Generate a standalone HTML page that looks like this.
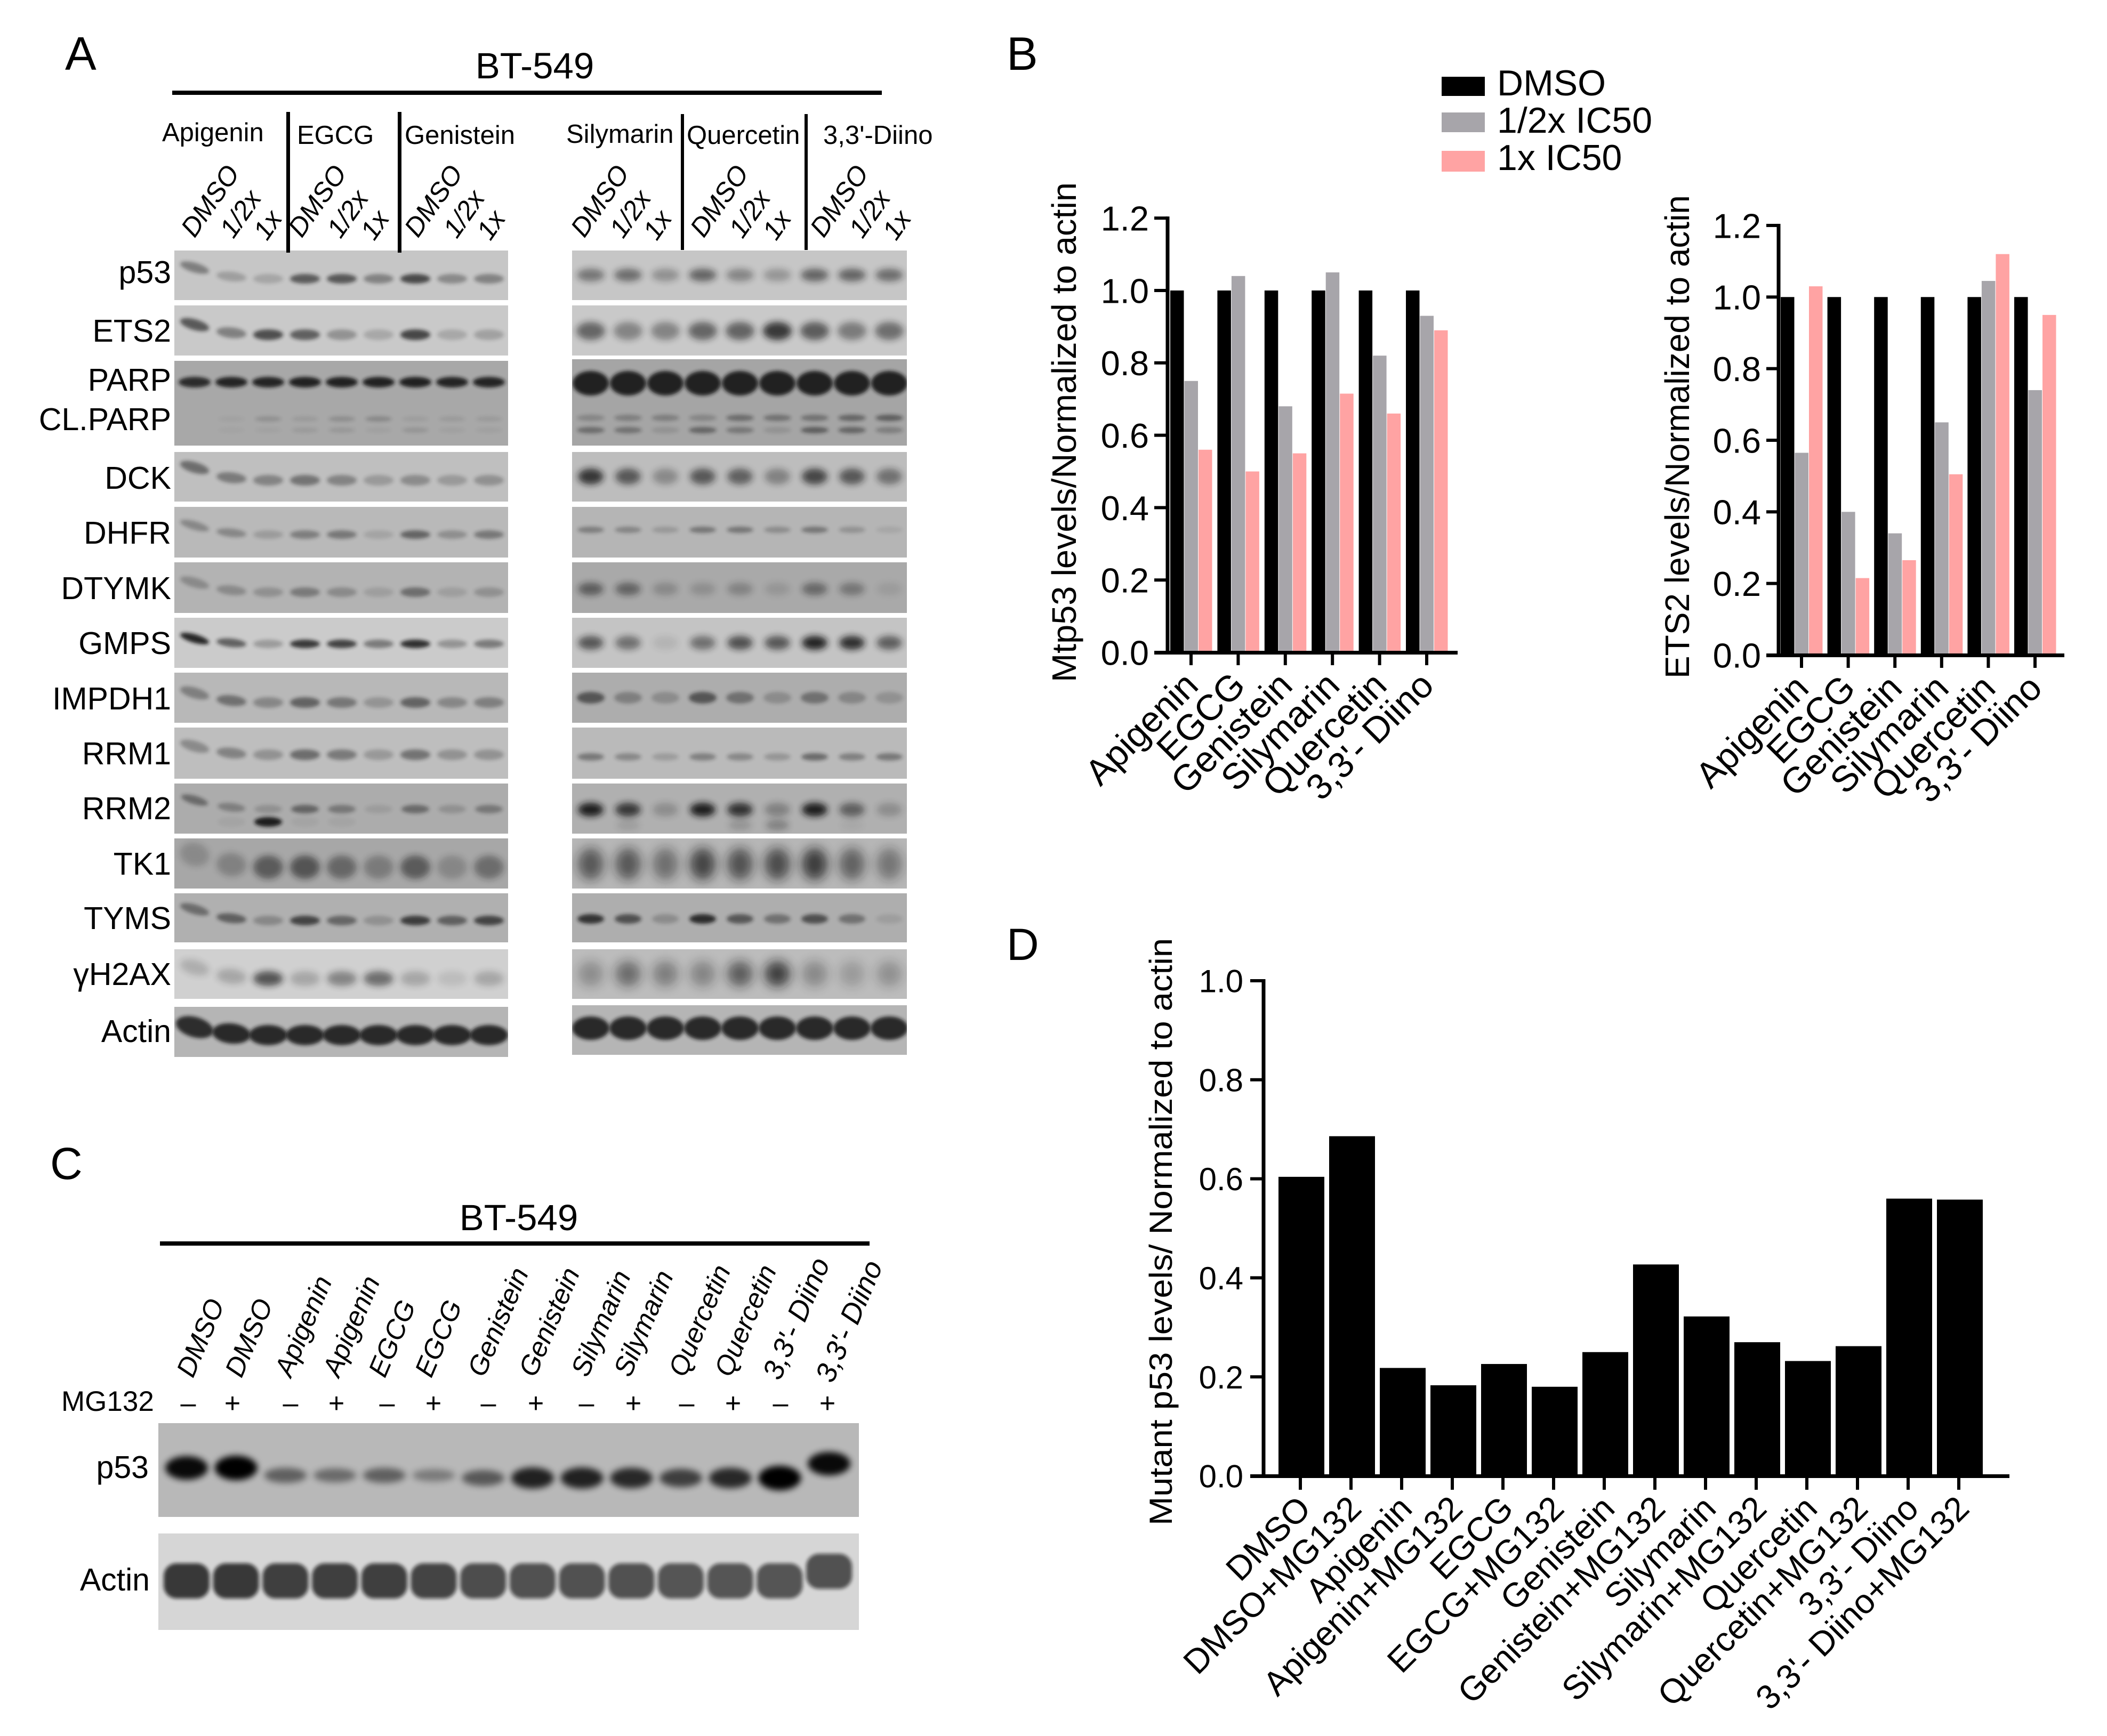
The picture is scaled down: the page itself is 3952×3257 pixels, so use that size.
<!DOCTYPE html>
<html lang="en">
<head>
<meta charset="utf-8">
<title>BT-549 western blots and quantification</title>
<style>
html,body{margin:0;padding:0;background:#fff;}
svg{display:block;font-family:"Liberation Sans",Arial,sans-serif;fill:#000;}
</style>
</head>
<body>
<svg id="figure" xmlns="http://www.w3.org/2000/svg" width="3952" height="3257" viewBox="0 0 3952 3257">
<defs>
<filter id="blur-fine" x="-50%" y="-100%" width="200%" height="300%"><feGaussianBlur stdDeviation="3.5"/></filter>
<filter id="blur-mid" x="-50%" y="-100%" width="200%" height="300%"><feGaussianBlur stdDeviation="6"/></filter>
<filter id="blur-wide" x="-50%" y="-100%" width="200%" height="300%"><feGaussianBlur stdDeviation="10"/></filter>
</defs>
<rect width="3952" height="3257" fill="#fff"/>

<g id="blots-a"></g>
<g id="blots-c"></g>

<g font-size="88">
<text x="122" y="131">A</text>
<text x="1888" y="131">B</text>
<text x="94" y="2212" font-size="84">C</text>
<text x="1888" y="1801" font-size="84">D</text>
</g>

<g>
<text x="1003" y="147" font-size="69" text-anchor="middle">BT-549</text>
<rect x="323" y="170" width="1331" height="8"/>
<rect x="537" y="210" width="7" height="264"/>
<rect x="746" y="210" width="7" height="264"/>
<rect x="1277" y="214" width="6" height="255"/>
<rect x="1509" y="214" width="6" height="255"/>
<g font-size="49">
<text x="304" y="265">Apigenin</text>
<text x="557" y="270">EGCG</text>
<text x="759" y="270">Genistein</text>
<text x="1062" y="268">Silymarin</text>
<text x="1288" y="270">Quercetin</text>
<text x="1544" y="270">3,3'-Diino</text>
</g>
<g font-size="50" font-style="italic" text-anchor="end">
<text transform="translate(451 325) rotate(-55)">DMSO</text>
<text transform="translate(492 372) rotate(-55)">1/2x</text>
<text transform="translate(531 410) rotate(-55)">1x</text>
<text transform="translate(652 325) rotate(-55)">DMSO</text>
<text transform="translate(693 372) rotate(-55)">1/2x</text>
<text transform="translate(732 410) rotate(-55)">1x</text>
<text transform="translate(870 325) rotate(-55)">DMSO</text>
<text transform="translate(911 372) rotate(-55)">1/2x</text>
<text transform="translate(950 410) rotate(-55)">1x</text>
<text transform="translate(1182 325) rotate(-55)">DMSO</text>
<text transform="translate(1223 372) rotate(-55)">1/2x</text>
<text transform="translate(1262 410) rotate(-55)">1x</text>
<text transform="translate(1406 325) rotate(-55)">DMSO</text>
<text transform="translate(1447 372) rotate(-55)">1/2x</text>
<text transform="translate(1486 410) rotate(-55)">1x</text>
<text transform="translate(1631 325) rotate(-55)">DMSO</text>
<text transform="translate(1672 372) rotate(-55)">1/2x</text>
<text transform="translate(1711 410) rotate(-55)">1x</text>
</g>
<g font-size="59" text-anchor="end">
<text x="321" y="531">p53</text>
<text x="321" y="641">ETS2</text>
<text x="321" y="733">PARP</text>
<text x="321" y="807">CL.PARP</text>
<text x="321" y="917">DCK</text>
<text x="321" y="1020">DHFR</text>
<text x="321" y="1124">DTYMK</text>
<text x="321" y="1227">GMPS</text>
<text x="321" y="1331">IMPDH1</text>
<text x="321" y="1434">RRM1</text>
<text x="321" y="1537">RRM2</text>
<text x="321" y="1641">TK1</text>
<text x="321" y="1743">TYMS</text>
<text x="321" y="1848" font-family="Liberation Sans, Noto Sans CJK SC, sans-serif">γH2AX</text>
<text x="321" y="1955">Actin</text>
</g>
</g>

<g>
<text x="973" y="2308" font-size="69" text-anchor="middle">BT-549</text>
<rect x="300" y="2329" width="1331" height="8"/>
<g font-size="51" font-style="italic">
<text transform="translate(362 2587) rotate(-67)">DMSO</text>
<text transform="translate(453 2587) rotate(-67)">DMSO</text>
<text transform="translate(546 2586) rotate(-67)">Apigenin</text>
<text transform="translate(636 2586) rotate(-67)">Apigenin</text>
<text transform="translate(722 2587) rotate(-67)">EGCG</text>
<text transform="translate(809 2587) rotate(-67)">EGCG</text>
<text transform="translate(908 2586) rotate(-67)">Genistein</text>
<text transform="translate(1004 2586) rotate(-67)">Genistein</text>
<text transform="translate(1102 2586) rotate(-67)">Silymarin</text>
<text transform="translate(1182 2586) rotate(-67)">Silymarin</text>
<text transform="translate(1285 2586) rotate(-67)">Quercetin</text>
<text transform="translate(1371 2586) rotate(-67)">Quercetin</text>
<text transform="translate(1463 2592) rotate(-67)" font-size="54">3,3'- Diino</text>
<text transform="translate(1562 2597) rotate(-67)" font-size="54">3,3'- Diino</text>
</g>
<text x="115" y="2647" font-size="53">MG132</text>
<g font-size="52" text-anchor="middle">
<text x="353" y="2650">–</text>
<text x="436" y="2650">+</text>
<text x="545" y="2650">–</text>
<text x="631" y="2650">+</text>
<text x="726" y="2650">–</text>
<text x="813" y="2650">+</text>
<text x="916" y="2650">–</text>
<text x="1005" y="2650">+</text>
<text x="1100" y="2650">–</text>
<text x="1188" y="2650">+</text>
<text x="1288" y="2650">–</text>
<text x="1375" y="2650">+</text>
<text x="1464" y="2650">–</text>
<text x="1552" y="2650">+</text>
</g>
<text x="279" y="2773" font-size="59" text-anchor="end">p53</text>
<text x="281" y="2984" font-size="59" text-anchor="end">Actin</text>
</g>

<g id="legend">
<rect x="2704" y="144" width="81" height="36" fill="#000"/>
<rect x="2704" y="211" width="81" height="37" fill="#a7a5aa"/>
<rect x="2704" y="283" width="81" height="39" fill="#ffa3a3"/>
<g font-size="68">
<text x="2808" y="179">DMSO</text>
<text x="2808" y="249">1/2x IC50</text>
<text x="2808" y="319">1x IC50</text>
</g>
</g>

<g id="chart-mtp53"></g>
<g id="chart-ets2"></g>
<g id="chart-mutant"></g>
</svg>

<script>
/* ---------- chart data ---------- */
const treatments = ['Apigenin','EGCG','Genistein','Silymarin','Quercetin',"3,3'- Diino"];
const axisTicksB = [0,0.2,0.4,0.6,0.8,1.0,1.2];
const mtp53Dmso = [1,1,1,1,1,1];
const mtp53Half = [0.75,1.04,0.68,1.05,0.82,0.93];
const mtp53Full = [0.56,0.50,0.55,0.715,0.66,0.89];
const ets2Dmso = [1,1,1,1,1,1];
const ets2Half = [0.565,0.40,0.34,0.65,1.045,0.74];
const ets2Full = [1.03,0.215,0.265,0.505,1.12,0.95];
const mutantCategories = ['DMSO','DMSO+MG132','Apigenin','Apigenin+MG132','EGCG','EGCG+MG132','Genistein','Genistein+MG132','Silymarin','Silymarin+MG132','Quercetin','Quercetin+MG132',"3,3'- Diino","3,3'- Diino+MG132"];
const mutantValues = [0.604,0.686,0.218,0.183,0.226,0.18,0.25,0.427,0.322,0.27,0.232,0.262,0.56,0.558];
const axisTicksD = [0,0.2,0.4,0.6,0.8,1.0];

/* ---------- blot band intensities (0-1), one value per lane ---------- */
const p53Left = [.4,.22,.18,.6,.62,.38,.7,.34,.38];
const p53Right = [.45,.5,.3,.55,.36,.27,.55,.55,.5];
const ets2Left = [.62,.4,.68,.58,.3,.18,.72,.18,.22];
const ets2Right = [.55,.38,.38,.55,.56,.8,.6,.43,.5];
const parpLeft = [.85,.9,.9,.92,.92,.92,.92,.9,.9];
const parpRight = [.92,.92,.92,.92,.92,.92,.92,.92,.92];
const clParpUpperLeft = [0,.04,.16,.09,.18,.22,.07,.09,.09];
const clParpUpperRight = [.22,.27,.27,.22,.4,.36,.36,.45,.5];
const clParpLowerLeft = [0,.03,.04,.09,.11,.05,.13,.05,.05];
const clParpLowerRight = [.4,.36,.13,.45,.32,.13,.5,.45,.27];
const dckLeft = [.48,.4,.35,.44,.35,.22,.3,.22,.27];
const dckRight = [.8,.6,.3,.6,.55,.35,.7,.6,.45];
const dhfrLeft = [.3,.3,.18,.36,.4,.13,.52,.26,.4];
const dhfrRight = [.35,.3,.18,.4,.4,.26,.4,.22,.09];
const dtymkLeft = [.26,.26,.22,.36,.26,.13,.44,.13,.22];
const dtymkRight = [.52,.48,.22,.18,.26,.13,.44,.35,.09];
const gmpsLeft = [.9,.58,.26,.8,.75,.44,.85,.3,.44];
const gmpsRight = [.62,.48,.09,.48,.66,.62,.92,.85,.58];
const impdh1Left = [.35,.44,.3,.52,.4,.22,.52,.3,.35];
const impdh1Right = [.58,.3,.22,.58,.4,.22,.4,.26,.18];
const rrm1Left = [.3,.35,.26,.48,.4,.22,.44,.26,.26];
const rrm1Right = [.4,.3,.18,.35,.3,.22,.48,.35,.4];
const rrm2Left = [.44,.3,.18,.48,.35,.1,.44,.18,.35];
const rrm2Right = [.95,.78,.22,.95,.82,.3,.95,.52,.22];
const rrm2LowerLeft = [0,.05,.95,.05,.05,0,0,0,0];
const rrm2LowerRight = [0,.12,0,0,.18,.3,0,.05,0];
const tk1Left = [.2,.26,.52,.57,.44,.3,.52,.22,.4];
const tk1Right = [.58,.58,.44,.7,.62,.66,.75,.52,.4];
const tymsLeft = [.44,.52,.26,.7,.48,.2,.75,.52,.7];
const tymsRight = [.8,.62,.22,.85,.57,.4,.62,.4,.1];
const h2axLeft = [.18,.22,.66,.22,.4,.52,.22,.1,.22];
const h2axRight = [.28,.48,.37,.33,.57,.75,.3,.2,.26];
const actinLeft = [.85,.88,.88,.88,.88,.88,.88,.88,.88];
const actinRight = [.88,.88,.88,.88,.88,.88,.88,.88,.88];
const panelCp53 = [.95,1,.48,.42,.48,.33,.52,.82,.82,.78,.66,.78,1,.95];
const panelCActin = [.78,.78,.75,.75,.75,.72,.68,.66,.66,.66,.64,.64,.64,.66];

const NS = 'http://www.w3.org/2000/svg';
function node(tag, parent, attrs, text){
  const el = document.createElementNS(NS, tag);
  for (const k in attrs) el.setAttribute(k, attrs[k]);
  if (text !== undefined) el.textContent = text;
  parent.appendChild(el);
  return el;
}

/* ---------- blots ---------- */
const leftGel = {x:327, w:626, lane:i => 365 + 69*i};
const rightGel = {x:1073, w:628, lane:i => 1108 + 70*i};
let clipCount = 0;

function gel(root, g, top, h, bg){
  const id = 'gel-clip-' + (++clipCount);
  const cp = node('clipPath', root, {id:id});
  node('rect', cp, {x:g.x, y:top, width:g.w, height:h});
  const rect = node('rect', root, {x:g.x, y:top, width:g.w, height:h, fill:bg});
  
  
  const grp = node('g', root, {'clip-path':'url(#' + id + ')'});
  
  
  return grp;
}

function bands(grp, g, yc, firstShift, rx, ry, values, blur){
  values.forEach((v, i) => {
    if (v <= 0) return;
    const cx = g.lane(i);
    const cy = yc + (i === 0 ? firstShift : 0) + (i === 1 ? firstShift * 0.2 : 0);
    const tilt = (firstShift !== 0 && i < 2) ? (i === 0 ? 16 : 6) : 0;
    const band = node('ellipse', grp, {cx:cx, cy:cy, rx:rx, ry:ry, fill:'#141414', opacity:v, filter:'url(#' + blur + ')', transform:'rotate(' + tilt + ' ' + cx + ' ' + cy + ')'});
    
    
  });
}

const rootA = document.getElementById('blots-a');
let s;
s = gel(rootA, leftGel, 470, 93, '#c6c6c6'); bands(s, leftGel, 523, -21, 28, 9, p53Left, 'blur-fine');
s = gel(rootA, rightGel, 470, 93, '#c6c6c6'); bands(s, rightGel, 516, 0, 26, 12, p53Right, 'blur-mid');
s = gel(rootA, leftGel, 573, 94, '#c9c9c9'); bands(s, leftGel, 628, -19, 28, 10, ets2Left, 'blur-fine');
s = gel(rootA, rightGel, 573, 94, '#c9c9c9'); bands(s, rightGel, 621, 0, 27, 17, ets2Right, 'blur-mid');
s = gel(rootA, leftGel, 677, 159, '#a8a8a8'); bands(s, leftGel, 717, 0, 30, 10, parpLeft, 'blur-fine'); bands(s, leftGel, 786, 0, 25, 5, clParpUpperLeft, 'blur-fine'); bands(s, leftGel, 807, 0, 25, 5, clParpLowerLeft, 'blur-fine');
s = gel(rootA, rightGel, 674, 162, '#a5a5a5'); bands(s, rightGel, 719, 0, 34, 23, parpRight, 'blur-fine'); bands(s, rightGel, 784, 0, 26, 6, clParpUpperRight, 'blur-fine'); bands(s, rightGel, 807, 0, 26, 6, clParpLowerRight, 'blur-fine');
s = gel(rootA, leftGel, 848, 93, '#bfbfbf'); bands(s, leftGel, 901, -24, 28, 10, dckLeft, 'blur-fine');
s = gel(rootA, rightGel, 848, 93, '#bdbdbd'); bands(s, rightGel, 894, 0, 24, 15, dckRight, 'blur-mid');
s = gel(rootA, leftGel, 951, 95, '#b9b9b9'); bands(s, leftGel, 1003, -17, 28, 8, dhfrLeft, 'blur-fine');
s = gel(rootA, rightGel, 951, 95, '#b5b5b5'); bands(s, rightGel, 994, 0, 25, 6, dhfrRight, 'blur-fine');
s = gel(rootA, leftGel, 1055, 95, '#b3b3b3'); bands(s, leftGel, 1111, -18, 28, 9, dtymkLeft, 'blur-fine');
s = gel(rootA, rightGel, 1055, 95, '#a9a9a9'); bands(s, rightGel, 1105, 0, 24, 12, dtymkRight, 'blur-mid');
s = gel(rootA, leftGel, 1159, 94, '#cbcbcb'); bands(s, leftGel, 1208, -10, 28, 8, gmpsLeft, 'blur-fine');
s = gel(rootA, rightGel, 1159, 94, '#c4c4c4'); bands(s, rightGel, 1206, 0, 24, 13, gmpsRight, 'blur-mid');
s = gel(rootA, leftGel, 1262, 94, '#b8b8b8'); bands(s, leftGel, 1318, -18, 28, 10, impdh1Left, 'blur-fine');
s = gel(rootA, rightGel, 1262, 94, '#adadad'); bands(s, rightGel, 1309, 0, 26, 11, impdh1Right, 'blur-fine');
s = gel(rootA, leftGel, 1365, 96, '#bebebe'); bands(s, leftGel, 1416, -16, 28, 10, rrm1Left, 'blur-fine');
s = gel(rootA, rightGel, 1365, 96, '#bababa'); bands(s, rightGel, 1420, 0, 25, 7, rrm1Right, 'blur-fine');
s = gel(rootA, leftGel, 1470, 94, '#acacac'); bands(s, leftGel, 1518, -17, 26, 8, rrm2Left, 'blur-fine'); bands(s, leftGel, 1542, 0, 26, 9, rrm2LowerLeft, 'blur-fine');
s = gel(rootA, rightGel, 1470, 94, '#b0b0b0'); bands(s, rightGel, 1519, 0, 24, 13, rrm2Right, 'blur-mid'); bands(s, rightGel, 1548, 0, 22, 10, rrm2LowerRight, 'blur-mid');
s = gel(rootA, leftGel, 1573, 94, '#a7a7a7'); bands(s, leftGel, 1627, -24, 28, 22, tk1Left, 'blur-mid');
s = gel(rootA, rightGel, 1573, 94, '#b6b6b6'); bands(s, rightGel, 1621, 0, 24, 30, tk1Right, 'blur-wide');
s = gel(rootA, leftGel, 1676, 92, '#b0b0b0'); bands(s, leftGel, 1727, -21, 28, 9, tymsLeft, 'blur-fine');
s = gel(rootA, rightGel, 1676, 92, '#aeaeae'); bands(s, rightGel, 1724, 0, 25, 9, tymsRight, 'blur-fine');
s = gel(rootA, leftGel, 1781, 93, '#d0d0d0'); bands(s, leftGel, 1836, -21, 28, 14, h2axLeft, 'blur-mid');
s = gel(rootA, rightGel, 1781, 93, '#bcbcbc'); bands(s, rightGel, 1827, 0, 24, 24, h2axRight, 'blur-wide');
s = gel(rootA, leftGel, 1889, 94, '#b5b5b5'); bands(s, leftGel, 1942, -15, 36, 19, actinLeft, 'blur-fine');
s = gel(rootA, rightGel, 1886, 93, '#b5b5b5'); bands(s, rightGel, 1929, 0, 35, 22, actinRight, 'blur-fine');

const rootC = document.getElementById('blots-c');
const gelC = {x:297, w:1314, lane:i => 350 + 92.7*i};
function cDrift(i){ return i < 2 ? -14 : (i === 13 ? -22 : (i >= 6 ? 5 : 0)); }
const cP53 = gel(rootC, gelC, 2670, 176, '#b8b8b8');
panelCp53.forEach((v, i) => {
  const band = node('ellipse', cP53, {cx:gelC.lane(i), cy:2768 + cDrift(i), rx:40, ry:6 + 17*v, fill:'#050505', opacity:v, filter:'url(#blur-mid)'});
  
  
});
const cActin = gel(rootC, gelC, 2877, 181, '#d6d6d6');
panelCActin.forEach((v, i) => {
  const w = 86;
  const h = 66;
  const band = node('rect', cActin, {x:gelC.lane(i) - w/2, y:2966 + (i === 13 ? -18 : 0) - h/2, width:w, height:h, rx:24, ry:24, fill:'#0a0a0a', opacity:v, filter:'url(#blur-fine)'});
  
  
});

/* ---------- charts ---------- */
function drawAxes(root, o){
  const y = v => o.y0 - v * o.unit;
  const axis = node('rect', root, {x:o.axisX - 3.5, y:y(o.ticks[o.ticks.length - 1]) - 3, width:7, height:o.y0 - y(o.ticks[o.ticks.length - 1]) + 6, fill:'#000'});
  
  
  o.ticks.forEach(v => {
    const t = node('rect', root, {x:o.tickLeft, y:y(v) - 3, width:o.axisX - o.tickLeft, height:6, fill:'#000'});
    
    
    const lab = node('text', root, {x:o.tickLabelX, y:y(v) + o.tickFont * 0.36, 'font-size':o.tickFont, 'text-anchor':'end'}, v.toFixed(1));
    
    
  });
  const xa = node('rect', root, {x:o.tickLeft, y:o.y0 - 3, width:o.xEnd - o.tickLeft, height:7, fill:'#000'});
  
  
  const title = node('text', root, {transform:'translate(' + o.titleX + ' ' + o.titleBottom + ') rotate(-90)', 'font-size':o.titleFont, textLength:o.titleLen, lengthAdjust:'spacingAndGlyphs'}, o.title);
  
  
  o.cats.forEach((c, i) => {
    const cx = o.center(i);
    const t = node('rect', root, {x:cx - 3, y:o.y0, width:6, height:o.tickLen, fill:'#000'});
    
    
    const lab = node('text', root, {transform:'translate(' + (cx + o.labelDx) + ' ' + (o.y0 + o.labelDy) + ') rotate(-45)', 'font-size':o.labelFont, 'text-anchor':'end'}, c);
    
    
  });
}

function drawGrouped(root, o, series){
  const colors = ['#000000','#a7a5aa','#ffa3a3'];
  const y = v => o.y0 - v * o.unit;
  series.forEach((vals, j) => {
    vals.forEach((v, i) => {
      const bar = node('rect', root, {x:o.x0 + i*o.period + j*o.barW, y:y(v), width:o.barW - 1, height:o.y0 - y(v), fill:colors[j]});
      
      
    });
  });
  drawAxes(root, o);
}

const cfgLeft = {y0:1224, unit:679, axisX:2190, tickLeft:2165, tickLabelX:2155, tickFont:65, xEnd:2734, ticks:axisTicksB,
  cats:treatments, x0:2195, period:88.4, barW:26.5, center:i => 2234 + i*88.4, tickLen:24, labelDx:17, labelDy:66, labelFont:68,
  title:'Mtp53 levels/Normalized to actin', titleX:2018, titleBottom:1280, titleFont:64, titleLen:938};
drawGrouped(document.getElementById('chart-mtp53'), cfgLeft, [mtp53Dmso, mtp53Half, mtp53Full]);

const cfgRight = {y0:1229, unit:671.7, axisX:3336, tickLeft:3313, tickLabelX:3303, tickFont:65, xEnd:3872, ticks:axisTicksB,
  cats:treatments, x0:3340, period:87.6, barW:26.5, center:i => 3379 + i*87.6, tickLen:24, labelDx:17, labelDy:66, labelFont:68,
  title:'ETS2 levels/Normalized to actin', titleX:3168, titleBottom:1273, titleFont:64, titleLen:907};
drawGrouped(document.getElementById('chart-ets2'), cfgRight, [ets2Dmso, ets2Half, ets2Full]);

const cfgD = {y0:2769, unit:929, axisX:2370, tickLeft:2345, tickLabelX:2332, tickFont:60, xEnd:3769, ticks:axisTicksD,
  cats:mutantCategories, center:i => 2439 + i*95, tickLen:26, labelDx:23, labelDy:65, labelFont:64,
  title:'Mutant p53 levels/ Normalized to actin', titleX:2198, titleBottom:2862, titleFont:60, titleLen:1102};
const rootD = document.getElementById('chart-mutant');
mutantValues.forEach((v, i) => {
  const top = cfgD.y0 - v * cfgD.unit;
  const bar = node('rect', rootD, {x:2398 + i*95, y:top, width:86, height:cfgD.y0 - top, fill:'#000'});
  
  
});
drawAxes(rootD, cfgD);
</script>
</body>
</html>
